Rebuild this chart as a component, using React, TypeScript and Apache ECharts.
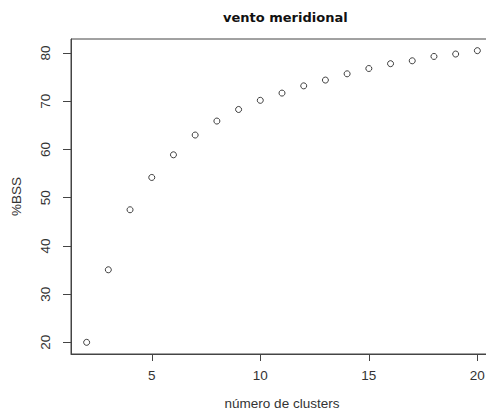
import React, { useEffect, useRef } from "react";
import * as echarts from "echarts";

const clusters = [2, 3, 4, 5, 6, 7, 8, 9, 10, 11, 12, 13, 14, 15, 16, 17, 18, 19, 20];
const bss = [20.0, 35.05, 47.5, 54.2, 58.9, 63.0, 65.9, 68.3, 70.2, 71.7, 73.2, 74.4, 75.7, 76.8, 77.8, 78.4, 79.3, 79.8, 80.5];
const xTicks = [5, 10, 15, 20];
const yTicks = [20, 30, 40, 50, 60, 70, 80];

const FONT = "'Liberation Sans', Arial, sans-serif";

export default function App() {
  const ref = useRef<HTMLDivElement>(null);
  useEffect(() => {
    if (!ref.current) return;
    const chart = echarts.init(ref.current, undefined, { renderer: "svg" });
    chart.setOption({
      animation: false,
      backgroundColor: "#ffffff",
      title: {
        text: "vento meridional",
        left: 218,
        top: 6,
        textStyle: { fontFamily: "'DejaVu Sans', sans-serif", fontSize: 13, fontWeight: "bold", color: "#111" },
      },
      grid: {
        left: 71,
        right: 1,
        top: 39,
        bottom: 55,
        show: true,
        borderColor: "#444",
        borderWidth: 1,
        backgroundColor: "transparent",
      },
      xAxis: {
        type: "value",
        min: 1.28,
        max: 20.72,
        name: "número de clusters",
        nameLocation: "middle",
        nameGap: 42,
        nameTextStyle: { fontFamily: FONT, fontSize: 13.5, color: "#333" },
        axisLine: { show: true, lineStyle: { color: "#444", width: 1 } },
        axisTick: { show: true, inside: false, length: 7, lineStyle: { color: "#444" }, customValues: xTicks },
        axisLabel: { fontFamily: FONT, fontSize: 13.5, color: "#333", margin: 14, customValues: xTicks },
        splitLine: { show: false },
      },
      yAxis: {
        type: "value",
        min: 17.58,
        max: 82.92,
        name: "%BSS",
        nameLocation: "middle",
        nameRotate: 90,
        nameGap: 48,
        nameTextStyle: { fontFamily: FONT, fontSize: 13.5, color: "#333" },
        axisLine: { show: true, lineStyle: { color: "#444", width: 1 } },
        axisTick: { show: true, inside: false, length: 8, lineStyle: { color: "#444" }, customValues: yTicks },
        axisLabel: { fontFamily: FONT, fontSize: 13.5, color: "#333", rotate: 90, margin: 19, customValues: yTicks },
        splitLine: { show: false },
      },
      series: [
        {
          type: "scatter",
          data: clusters.map((c, i) => [c, bss[i]]),
          symbol: "circle",
          symbolSize: 6,
          itemStyle: { color: "#ffffff", borderColor: "#111", borderWidth: 1 },
        },
      ],
    });
    return () => chart.dispose();
  }, []);
  return (
    <div style={{ position: "fixed", left: 0, top: 0, width: 486, height: 415, overflow: "hidden", background: "#fff" }}>
      <div ref={ref} style={{ width: 494, height: 415 }} />
    </div>
  );
}
